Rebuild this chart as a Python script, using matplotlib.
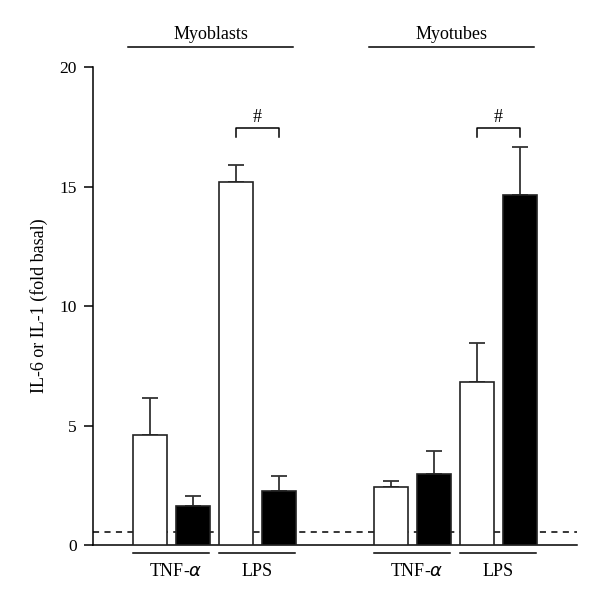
import matplotlib.pyplot as plt
import numpy as np

plt.rcParams['font.family'] = ['Liberation Serif', 'DejaVu Serif']

# ---- data ------------------------------------------------------
groups = ['Myoblasts', 'Myotubes']
treatments = ['TNF-$\\alpha$', 'LPS']
white_vals = [4.6, 15.2, 2.43, 6.83]     # open bars
white_err = [1.55, 0.72, 0.25, 1.62]
black_vals = [1.62, 2.26, 2.96, 14.65]   # filled bars
black_err = [0.42, 0.62, 0.99, 2.0]
basal = 0.53
sig_pairs = [1, 3]                        # treatment blocks marked with '#'
yticks = [0, 5, 10, 15, 20]
ylabel = 'IL-6 or IL-1 (fold basal)'

# ---- positions -------------------------------------------------
block_x = np.array([0, 2, 5.6, 7.6])      # left (white) bar of each block
w = 0.8
xw = block_x
xb = block_x + 1

fig = plt.figure(figsize=(6, 5.99), dpi=100)
ax = fig.add_axes([0.1545, 0.0902, 0.8072, 0.7974])

ax.bar(xw, white_vals, w, color='white', edgecolor='#222222', linewidth=1.2, zorder=3)
ax.bar(xb, black_vals, w, color='black', edgecolor='#222222', linewidth=1.2, zorder=3)
ax.errorbar(xw, white_vals, yerr=[np.zeros(4), white_err], fmt='none',
            ecolor='#333333', elinewidth=1.3, capsize=6.1, capthick=1.3, zorder=2)
ax.errorbar(xb, black_vals, yerr=[np.zeros(4), black_err], fmt='none',
            ecolor='#333333', elinewidth=1.3, capsize=6.1, capthick=1.3, zorder=2)

ax.set_xlim(-1.33, 9.93)
ax.set_ylim(0, 20)
ax.axhline(basal, color='black', lw=1.1, ls=(0, (4, 3.5)), zorder=1)

ax.spines['top'].set_visible(False)
ax.spines['right'].set_visible(False)
ax.spines['left'].set_linewidth(1.1)
ax.spines['bottom'].set_linewidth(1.1)
ax.set_xticks([])
ax.set_yticks(yticks)
ax.tick_params(axis='y', direction='out', length=6.5, width=1.1, pad=5, labelsize=12.5)
ax.set_ylabel(ylabel, fontsize=13, labelpad=8)

# treatment lines and labels under the axis
for i, bx in enumerate(block_x):
    ax.plot([bx - 0.4, bx + 1.38], [-0.32, -0.32], color='black', lw=1.1,
            clip_on=False)
    ax.text(bx + 0.5 + (0.1 if i % 2 == 0 else 0), -1.29, treatments[i % 2],
            ha='center', va='baseline', fontsize=13)

# group lines and labels above the axis
for g in range(2):
    x0 = block_x[2 * g] - 0.5
    x1 = block_x[2 * g + 1] + 1.32
    ax.plot([x0, x1], [20.87, 20.87], color='black', lw=1.1, clip_on=False)
    ax.text((x0 + x1) / 2, 21.17, groups[g], ha='center', va='baseline', fontsize=13)

# significance brackets
for i in sig_pairs:
    x0, x1 = xw[i], xb[i]
    ax.plot([x0, x0, x1, x1], [17.07, 17.45, 17.45, 17.07], color='black', lw=1.1,
            clip_on=False)
    ax.text((x0 + x1) / 2, 17.88, '#', ha='center', va='center', fontsize=13)

fig.savefig('out.png', dpi=100)
